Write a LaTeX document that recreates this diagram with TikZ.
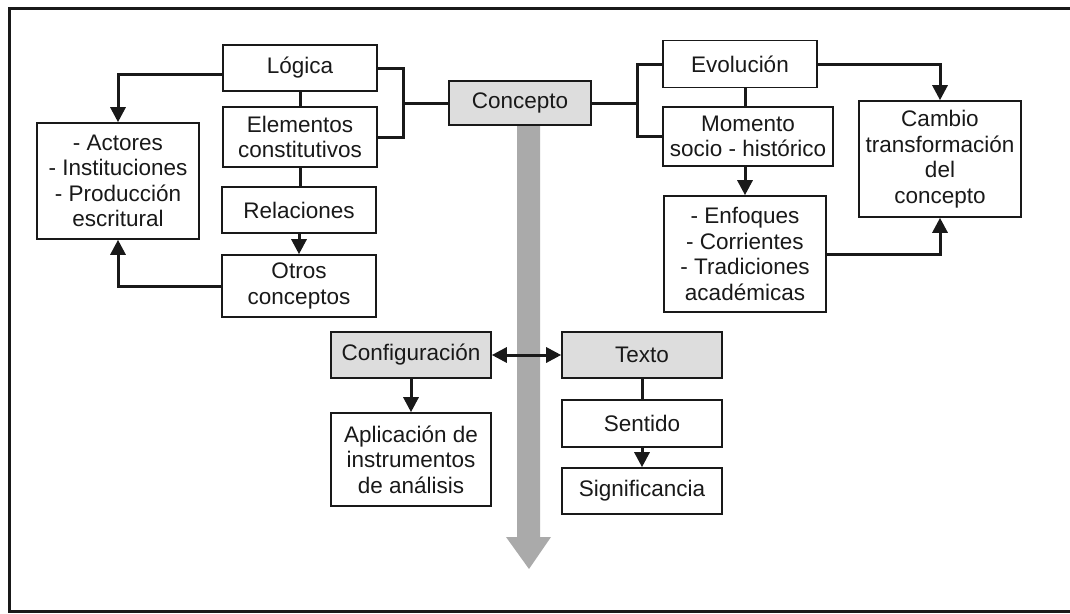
\documentclass[tikz,border=0pt]{standalone}
\usepackage{fontspec}
\setmainfont{Liberation Sans}
\usepackage{xcolor}
\usepackage{tikz}
\usetikzlibrary{arrows.meta}
\definecolor{boxgray}{RGB}{221,221,221}
\definecolor{bigarrow}{RGB}{170,170,170}
\definecolor{ink}{RGB}{25,25,25}
\tikzset{
  cbox/.style={draw=ink,line width=1.6pt,fill=white,align=center,inner sep=0pt,
    text=ink,font=\fontsize{22.5}{25.5}\selectfont},
  gbox/.style={cbox,fill=boxgray},
  link/.style={draw=ink,line width=3pt}
}

\begin{document}
\begin{tikzpicture}[line cap=butt,line join=miter,>={Triangle[length=15pt,width=15pt]},x=1pt,y=-1pt]
\clip(0,0) rectangle (1070,613);
\useasboundingbox (0,0) rectangle (1070,613);
\draw [line width=3pt,ink] (9,8) rectangle (1090,611);

% eje central
\fill [bigarrow] (517,125) -- (540,125) -- (540,537) -- (551,537) -- (529,569) -- (506,537) -- (517,537) -- cycle;

% izquierda
\node [cbox,minimum width=154,minimum height=46] (logica) at (300,68) {Lógica};
\node [cbox,minimum width=154,minimum height=60] (elem) at (300,137) {Elementos\\constitutivos};
\node [cbox,minimum width=154,minimum height=46] (rel) at (299,210) {Relaciones};
\node [cbox,minimum width=154,minimum height=62] (otros) at (299,286) {Otros\\conceptos};
\node [cbox,minimum width=162,minimum height=116] (actores) at (118,181) {- Actores\\- Instituciones\\- Producción\\escritural};
\node [gbox,minimum width=142,minimum height=44] (concepto) at (520,103) {Concepto};

% derecha
\node [cbox,minimum width=154,minimum height=47] (evol) at (740,64) {Evolución};
\node [cbox,minimum width=170,minimum height=59] (momento) at (748,136.5) {Momento\\socio - histórico};
\node [cbox,minimum width=162,minimum height=116] (enfoques) at (745,254) {- Enfoques\\- Corrientes\\- Tradiciones\\académicas};
\node [cbox,minimum width=162,minimum height=116] (cambio) at (940,159) {Cambio\\transformación\\del\\concepto};

% abajo
\node [gbox,minimum width=160,minimum height=46] (config) at (411,355) {Configuración};
\node [gbox,minimum width=160,minimum height=46] (texto) at (642,355) {Texto};
\node [cbox,minimum width=160,minimum height=93] (aplic) at (411,459.5) {Aplicación de\\instrumentos\\de análisis};
\node [cbox,minimum width=160,minimum height=47] (sentido) at (642,423.5) {Sentido};
\node [cbox,minimum width=160,minimum height=46] (signif) at (642,491) {Significancia};

\coordinate (lb) at (403,103);
\coordinate (rb) at (637,103);

\draw [link] (logica.east) -| (lb) |- (elem.east);
\draw [link] (lb) -- (concepto.west);
\draw [link] (concepto.east) -- (rb);
\draw [link] (evol.west) -| (rb) |- (momento.west);
\draw [link] (logica.south) -- (elem.north);
\draw [link] (elem.south) -- (elem.south |- rel.north);
\draw [link,->] (rel.south) -- (otros.north);
\draw [link,->] ([yshift=-6pt]logica.west) -| (actores.north);
\draw [link,->] (otros.west) -| (actores.south);
\draw [link] (evol.south -| enfoques.north) -- (momento.north -| enfoques.north);
\draw [link,->] (momento.south -| enfoques.north) -- (enfoques.north);
\draw [link,->] (evol.east) -| (cambio.north);
\draw [link,->] (enfoques.east) -| (cambio.south);
\draw [link,<->] (config.east) -- (texto.west);
\draw [link,->] (config.south) -- (aplic.north);
\draw [link] (texto.south) -- (sentido.north);
\draw [link,->] (sentido.south) -- (signif.north);
\end{tikzpicture}
\end{document}
